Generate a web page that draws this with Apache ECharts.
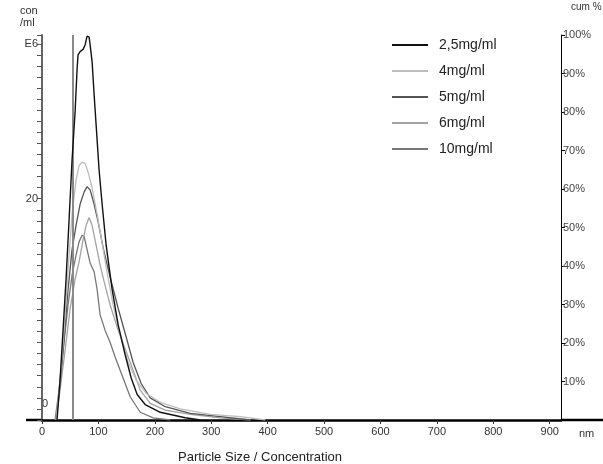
<!DOCTYPE html>
<html>
<head>
<meta charset="utf-8">
<script src="https://cdn.jsdelivr.net/npm/echarts@6/dist/echarts.min.js"></script>
<style>html,body{margin:0;padding:0;background:#fff;}#c{width:603px;height:464px;}</style>
</head>
<body>
<div id="c"></div>
<script>
// Particle size (nm) vs concentration (E6 con/ml)
const seriesNames = ['2,5mg/ml', '4mg/ml', '5mg/ml', '6mg/ml', '10mg/ml'];
const conc25 = [[26.6,0],[32.0,3.6],[37.3,8.1],[42.6,12.7],[48.0,18.1],[53.3,23.5],[58.6,27.8],[62.2,31.7],[63.9,33.0],[67.5,33.3],[72.8,33.5],[76.4,33.9],[79.9,34.7],[81.7,34.8],[83.5,34.6],[85.3,33.9],[88.8,32.4],[92.4,29.4],[95.9,26.7],[101.2,22.6],[106.6,19.5],[113.7,15.8],[124.3,11.8],[135.0,8.6],[147.4,5.9],[158.1,3.8],[168.7,2.3],[182.9,1.4],[209.6,0.7],[254.0,0.2],[280.6,0]];
const conc4 = [[24.9,0],[32.0,3.6],[39.1,8.1],[46.2,13.6],[53.3,18.6],[60.4,21.7],[65.7,23.0],[71.0,23.3],[76.4,23.2],[81.7,22.4],[88.8,21.0],[97.7,18.6],[106.6,16.0],[115.5,13.3],[126.1,10.4],[138.5,7.7],[152.8,5.2],[167.0,3.6],[184.7,2.4],[209.6,1.6],[245.1,1.0],[298.4,0.5],[351.7,0.3],[396.1,0]];
const conc5 = [[24.9,0],[32.0,3.2],[39.1,7.2],[46.2,11.8],[53.3,15.4],[60.4,17.6],[67.5,19.5],[74.6,20.6],[79.9,21.1],[85.3,20.8],[92.4,19.5],[99.5,17.9],[108.3,15.6],[120.8,12.9],[135.0,10.1],[149.2,7.5],[161.6,5.2],[175.8,3.3],[191.8,2.0],[218.5,1.2],[262.9,0.6],[316.2,0.3],[369.4,0]];
const conc6 = [[24.9,0],[32.0,2.7],[40.9,6.3],[49.7,10.0],[58.6,12.7],[65.7,14.3],[72.8,16.3],[78.2,17.6],[83.5,18.3],[88.8,17.6],[95.9,15.8],[103.0,14.0],[110.1,12.5],[120.8,10.4],[135.0,8.1],[149.2,6.2],[161.6,4.5],[174.1,2.7],[191.8,1.5],[218.5,0.9],[262.9,0.5],[316.2,0.2],[369.4,0]];
const conc10 = [[23.1,0],[30.2,2.7],[37.3,6.3],[46.2,10.4],[53.3,13.1],[60.4,14.9],[65.7,16.1],[71.0,16.7],[74.6,16.6],[79.9,15.4],[85.3,14.2],[92.4,13.4],[97.7,11.8],[103.0,9.5],[111.9,8.1],[120.8,7.0],[129.7,5.7],[138.5,4.5],[147.4,3.3],[156.3,2.1],[165.2,1.4],[174.1,0.7],[197.2,0.2],[227.4,0]];
const markerSize = 55;
const xTicks = [0,100,200,300,400,500,600,700,800,900];
const cumTicks = [10,20,30,40,50,60,70,80,90,100];

const colors = ['#111111', '#bdbdbd', '#555555', '#a3a3a3', '#777777'];
const allData = [conc25, conc4, conc5, conc6, conc10];

const chart = echarts.init(document.getElementById('c'), null, {renderer: 'canvas'});
const font = 'Arial, "Liberation Sans", sans-serif';

const series = allData.map((d, i) => ({
  name: seriesNames[i],
  type: 'line',
  data: d,
  symbol: 'none',
  smooth: false,
  color: colors[i],
  lineStyle: {width: i === 0 ? 1.4 : 1.3, color: colors[i]},
  z: 5 - i
}));
series[0].markLine = {
  silent: true,
  symbol: 'none',
  label: {show: false},
  lineStyle: {color: '#8a8a8a', width: 2, type: 'solid'},
  data: [{xAxis: markerSize}]
};

chart.setOption({
  animation: false,
  backgroundColor: '#fff',
  textStyle: {fontFamily: font},
  title: {
    text: 'Particle Size / Concentration',
    left: 173, top: 446,
    textStyle: {fontSize: 13, fontWeight: 'normal', color: '#222', fontFamily: font}
  },
  legend: {
    orient: 'vertical',
    left: 387, top: 33,
    itemWidth: 36, itemHeight: 2, itemGap: 12,
    icon: 'rect',
    data: seriesNames,
    textStyle: {fontSize: 14, color: '#222', fontFamily: font, padding: [0,0,0,6]}
  },
  grid: {left: 42, right: 42, top: 35, bottom: 44, containLabel: false},
  xAxis: {
    type: 'value', min: 0, max: 920, interval: 100,
    name: 'nm', nameLocation: 'end', nameGap: 18,
    nameTextStyle: {fontSize: 11, color: '#333', align: 'left', verticalAlign: 'top', padding: [8,0,0,0]},
    axisLine: {show: true, lineStyle: {color: '#000', width: 2.5}},
    axisTick: {show: true, inside: false, length: 4, lineStyle: {color: '#333'}},
    axisLabel: {fontSize: 11, color: '#333', margin: 6, showMaxLabel: false,
      formatter: v => xTicks.indexOf(v) >= 0 ? String(v) : ''},
    splitLine: {show: false}
  },
  yAxis: [{
    type: 'value', min: 0, max: 34.8, interval: 1, position: 'left',
    axisLine: {show: true, lineStyle: {color: '#666', width: 2}},
    axisTick: {show: true, inside: false, length: 5, lineStyle: {color: '#555'}},
    axisLabel: {fontSize: 11, color: '#333', margin: 4,
      formatter: v => v === 20 ? '20' : (v === 34 ? 'E6' : '')},
    splitLine: {show: false}
  }, {
    type: 'value', min: 0, max: 100, interval: 10, position: 'right',
    axisLine: {show: true, lineStyle: {color: '#000', width: 1}},
    axisTick: {show: true, inside: false, length: 4, lineStyle: {color: '#000'}},
    axisLabel: {fontSize: 11, color: '#444', margin: 2,
      formatter: v => cumTicks.indexOf(v) >= 0 ? v + '%' : ''},
    splitLine: {show: false}
  }],
  graphic: [
    {type: 'text', left: 20, top: 5, style: {text: 'con\n/ml', font: '11px Arial, "Liberation Sans", sans-serif', fill: '#333', lineHeight: 12}},
    {type: 'text', left: 42, top: 398, style: {text: '0', font: '11px Arial, "Liberation Sans", sans-serif', fill: '#333'}},
    {type: 'text', left: 571, top: 2, style: {text: 'cum %', font: '10px Arial, "Liberation Sans", sans-serif', fill: '#333'}},
    {type: 'line', shape: {x1: 26, y1: 420, x2: 42, y2: 420}, style: {stroke: '#000', lineWidth: 2.5}},
    {type: 'line', shape: {x1: 561, y1: 420, x2: 603, y2: 420}, style: {stroke: '#000', lineWidth: 2.5}}
  ],
  series: series
});
</script>
</body>
</html>
